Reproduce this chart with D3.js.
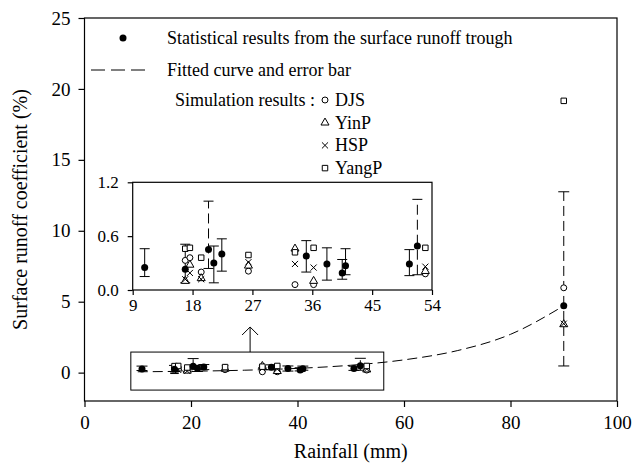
<!DOCTYPE html>
<html>
<head>
<meta charset="utf-8">
<script src="https://cdn.jsdelivr.net/npm/d3@7"></script>
<style>
  body { margin: 0; background: #fff; }
  svg { font-family: "Liberation Serif", "Times New Roman", serif; }
</style>
</head>
<body>
<svg id="chart"></svg>
<script>
// observed runoff coefficients (trough) with error bars
const obsRain = [10.8, 16.9, 20.4, 21.2, 22.4, 35.1, 38.2, 40.5, 41.0, 50.6, 51.8, 90];
const obsCoef = [0.25, 0.23, 0.45, 0.30, 0.40, 0.38, 0.29, 0.19, 0.27, 0.29, 0.49, 4.71];
const errLow = [0.15, 0.08, 0.24, 0.08, 0.21, 0.20, 0.11, 0.12, 0.17, 0.16, 0.17, 0.47];
const errHigh = [0.46, 0.51, 0.99, 0.49, 0.57, 0.55, 0.47, 0.34, 0.46, 0.45, 1.01, 12.75];
const errDashed = [false, false, true, false, false, false, false, false, false, false, true, true];

// simulation results
const simRain = [16.9, 17.6, 19.3, 26.4, 33.4, 36.2, 53.0, 90];
const djs = [0.33, 0.36, 0.20, 0.21, 0.06, 0.06, 0.18, 5.98];
const yinp = [0.10, 0.28, 0.13, 0.27, 0.46, 0.10, 0.21, 3.40];
const hsp = [0.12, 0.19, 0.12, 0.31, 0.29, 0.25, 0.26, 3.45];
const yangp = [0.46, 0.47, 0.36, 0.39, 0.42, 0.47, 0.47, 19.16];

// fitted curve
const curveRain = [10, 20, 30, 40, 50, 60, 70, 80, 90];
const curveCoef = [0.06, 0.10, 0.17, 0.30, 0.52, 0.90, 1.55, 2.70, 4.71];

const xTicks = [0, 20, 40, 60, 80, 100];
const yTicks = [0, 5, 10, 15, 20, 25];
const insetXTicks = [9, 18, 27, 36, 45, 54];
const insetYTicks = [0, 0.6, 1.2];

const W = 641, H = 465;
const svg = d3.select("#chart").attr("width", W).attr("height", H);
svg.append("rect").attr("width", W).attr("height", H).attr("fill", "#fff");

const x = d3.scaleLinear().domain([0, 100]).range([84.5, 617]);
const y = d3.scaleLinear().domain([-2, 25]).range([401, 18]);
const ix = d3.scaleLinear().domain([9, 54]).range([132.7, 432]);
const iy = d3.scaleLinear().domain([0, 1.2]).range([290, 182.3]);

const models = [
  { name: "DJS", vals: djs, sym: d3.symbolCircle, size: 28, fill: "#fff" },
  { name: "YinP", vals: yinp, sym: d3.symbolTriangle, size: 28, fill: "#fff" },
  { name: "HSP", vals: hsp, sym: d3.symbolTimes, size: 26, fill: "none" },
  { name: "YangP", vals: yangp, sym: d3.symbolSquare, size: 30, fill: "#fff" },
];

// obs + sims + error bars for the given pair of scales
function drawPoints(g, sx, sy, capW) {
  obsRain.forEach((r, i) => {
    const bar = g.append("g").attr("stroke", "#000").attr("stroke-width", 1);
    bar.append("line")
      .attr("x1", sx(r)).attr("x2", sx(r))
      .attr("y1", sy(errLow[i])).attr("y2", sy(errHigh[i]))
      .attr("stroke-dasharray", errDashed[i] ? "10,5" : null);
    [errLow[i], errHigh[i]].forEach((v) => {
      bar.append("line")
        .attr("x1", sx(r) - capW).attr("x2", sx(r) + capW)
        .attr("y1", sy(v)).attr("y2", sy(v));
    });
  });

  models.forEach((m) => {
    g.selectAll(null)
      .data(simRain.map((r, i) => [r, m.vals[i]]))
      .enter()
      .append("path")
      .attr("d", d3.symbol().type(m.sym).size(m.size))
      .attr("transform", (d) => `translate(${sx(d[0])},${sy(d[1])})`)
      .attr("fill", m.fill)
      .attr("stroke", "#000")
      .attr("stroke-width", 1);
  });

  g.selectAll(null)
    .data(obsRain.map((r, i) => [r, obsCoef[i]]))
    .enter()
    .append("circle")
    .attr("cx", (d) => sx(d[0]))
    .attr("cy", (d) => sy(d[1]))
    .attr("r", 3.5)
    .attr("fill", "#000");
}

// main frame
svg.append("rect")
  .attr("x", x(0)).attr("y", y(25))
  .attr("width", x(100) - x(0)).attr("height", y(-2) - y(25))
  .attr("fill", "none").attr("stroke", "#000").attr("stroke-width", 1.2);

const xAxis = svg.append("g")
  .attr("transform", `translate(0,${y(-2)})`)
  .call(d3.axisBottom(x).tickValues(xTicks).tickSize(6).tickSizeOuter(0).tickPadding(9));
const yAxis = svg.append("g")
  .attr("transform", `translate(${x(0)},0)`)
  .call(d3.axisLeft(y).tickValues(yTicks).tickSize(6).tickSizeOuter(0).tickPadding(8));
[xAxis, yAxis].forEach((a) => {
  a.select(".domain").remove();
  a.selectAll("line").attr("stroke-width", 1.2);
  a.selectAll("text").attr("font-size", 19).attr("font-family", "Liberation Serif").attr("fill", "#000");
});

svg.append("text")
  .attr("x", (x(0) + x(100)) / 2).attr("y", 458)
  .attr("text-anchor", "middle").attr("font-size", 20)
  .text("Rainfall (mm)");
svg.append("text")
  .attr("transform", `translate(27,${(y(25) + y(-2)) / 2}) rotate(-90)`)
  .attr("text-anchor", "middle").attr("font-size", 20)
  .text("Surface runoff coefficient (%)");

// fitted curve
svg.append("path")
  .datum(curveRain.map((r, i) => [r, curveCoef[i]]))
  .attr("d", d3.line().x((d) => x(d[0])).y((d) => y(d[1])).curve(d3.curveMonotoneX))
  .attr("fill", "none").attr("stroke", "#000").attr("stroke-width", 1)
  .attr("stroke-dasharray", "10,5");

drawPoints(svg.append("g"), x, y, 5.5);

// zoom box + arrow up to the inset
svg.append("rect")
  .attr("x", x(8.7)).attr("y", y(1.45))
  .attr("width", x(56.2) - x(8.7)).attr("height", y(-1.23) - y(1.45))
  .attr("fill", "none").attr("stroke", "#000").attr("stroke-width", 1);
const ax = x(31.1), aTop = 327;
svg.append("path")
  .attr("d", `M${ax},${y(1.45)}V${aTop}M${ax - 8},${aTop + 8}L${ax},${aTop}L${ax + 8},${aTop + 8}`)
  .attr("fill", "none").attr("stroke", "#000").attr("stroke-width", 1);

// inset
const inset = svg.append("g");
inset.append("rect")
  .attr("x", ix(9)).attr("y", iy(1.2))
  .attr("width", ix(54) - ix(9)).attr("height", iy(0) - iy(1.2))
  .attr("fill", "#fff").attr("stroke", "#000").attr("stroke-width", 1.2);
const ixAxis = inset.append("g")
  .attr("transform", `translate(0,${iy(0)})`)
  .call(d3.axisBottom(ix).tickValues(insetXTicks).tickSize(5).tickSizeOuter(0).tickPadding(4));
const iyAxis = inset.append("g")
  .attr("transform", `translate(${ix(9)},0)`)
  .call(d3.axisLeft(iy).tickValues(insetYTicks).tickFormat(d3.format(".1f")).tickSize(5).tickSizeOuter(0).tickPadding(9));
[ixAxis, iyAxis].forEach((a) => {
  a.select(".domain").remove();
  a.selectAll("line").attr("stroke-width", 1.2);
  a.selectAll("text").attr("font-size", 17).attr("font-family", "Liberation Serif").attr("fill", "#000");
});
drawPoints(inset.append("g"), ix, iy, 5);

// legend
const lg = svg.append("g").attr("font-size", 18);
lg.append("circle").attr("cx", 123).attr("cy", 38).attr("r", 3.5).attr("fill", "#000");
lg.append("text").attr("x", 167).attr("y", 44).text("Statistical results from the surface runoff trough");
lg.append("line").attr("x1", 91).attr("x2", 145).attr("y1", 70).attr("y2", 70)
  .attr("stroke", "#000").attr("stroke-dasharray", "14,6");
lg.append("text").attr("x", 167).attr("y", 76).text("Fitted curve and error bar");
lg.append("text").attr("x", 175).attr("y", 106).text("Simulation results :");
models.forEach((m, i) => {
  const yy = 100 + i * 22.7;
  lg.append("path")
    .attr("d", d3.symbol().type(m.sym).size(m.size))
    .attr("transform", `translate(325,${yy})`)
    .attr("fill", m.fill).attr("stroke", "#000");
  lg.append("text").attr("x", 335).attr("y", yy + 6).text(m.name);
});
</script>
</body>
</html>
